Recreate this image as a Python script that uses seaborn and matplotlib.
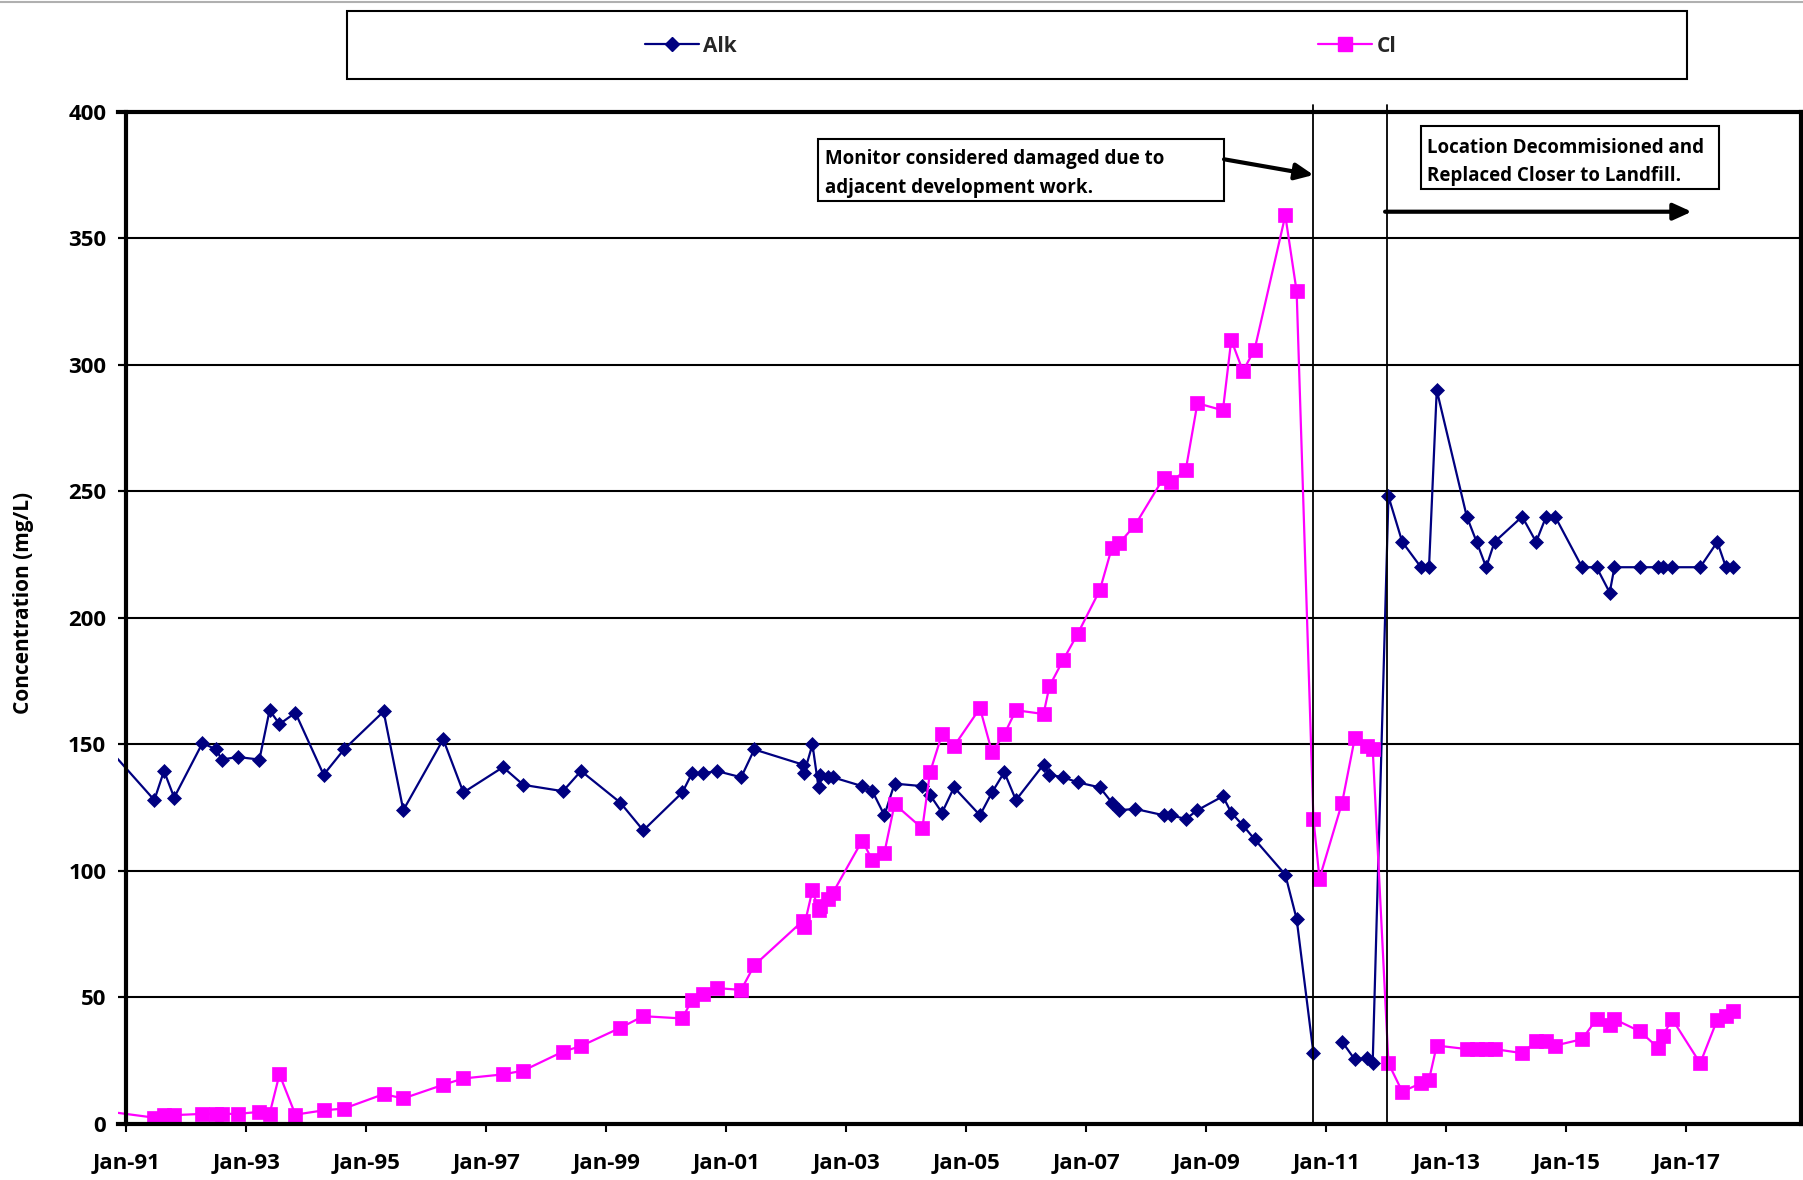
import matplotlib
matplotlib.use("Agg")
import matplotlib.pyplot as plt
import matplotlib.dates as mdates
from matplotlib.lines import Line2D
from matplotlib.patches import Rectangle
import numpy as np
import pandas as pd
import seaborn as sns

# Sampling dates shared by both parameters
sample_dates = [
    "1990-06-01", "1991-06-20", "1991-08-18", "1991-10-19", "1992-04-08",
    "1992-07-01", "1992-08-03", "1992-11-10", "1993-03-21", "1993-05-22",
    "1993-07-21", "1993-10-26", "1994-04-16", "1994-08-18", "1995-04-16",
    "1995-08-14", "1996-04-13", "1996-08-14", "1997-04-12", "1997-08-14",
    "1998-04-12", "1998-07-31", "1999-03-27", "1999-08-14", "2000-04-08",
    "2000-06-05", "2000-08-10", "2000-11-02", "2001-04-01", "2001-06-20",
    "2002-04-12", "2002-04-19", "2002-06-09", "2002-07-16", "2002-07-27",
    "2002-09-14", "2002-10-11", "2003-04-08", "2003-06-09", "2003-08-21",
    "2003-10-22", "2004-04-08", "2004-05-25", "2004-08-06", "2004-10-18",
    "2005-03-25", "2005-06-06", "2005-08-20", "2005-10-30", "2006-04-16",
    "2006-05-22", "2006-08-14", "2006-11-10", "2007-03-25", "2007-06-06",
    "2007-07-21", "2007-10-26", "2008-04-16", "2008-05-31", "2008-08-29",
    "2008-11-08", "2009-04-12", "2009-06-02", "2009-08-12", "2009-10-22",
    "2010-04-27", "2010-07-05", "2010-10-15", "2010-11-21", "2011-04-08",
    "2011-06-24", "2011-09-05", "2011-10-11", "2012-01-15", "2012-04-08",
    "2012-07-31", "2012-09-18", "2012-11-04", "2013-05-06", "2013-07-05",
    "2013-09-01", "2013-10-22", "2014-04-08", "2014-07-02", "2014-09-01",
    "2014-10-26", "2015-04-08", "2015-07-05", "2015-09-23", "2015-10-22",
    "2016-03-25", "2016-07-16", "2016-08-10", "2016-10-08", "2017-03-27",
    "2017-07-09", "2017-08-31", "2017-10-11",
]

# Alkalinity (mg/L); NaN = not analysed
alk = [
    156, 128, 139.5, 129, 150.5, 148, 144, 145, 144, 163.5,
    158, 162.5, 138, 148, 163, 124, 152, 131, 141, 134,
    131.5, 139.5, 127, 116, 131, 138.5, 138.5, 139.5, 137, 148,
    142, 138.5, 150, 133, 138, 137, 137, 133.5, 131.5, 122,
    134.5, 133.5, 130, 123, 133, 122, 131, 139, 128, 142,
    138, 137, 135, 133, 127, 124, 124.5, 122, 122, 120.5,
    124, 129.5, 123, 118, 112.5, 98.5, 81, 28, np.nan, 32.5,
    25.5, 26, 24, 248, 230, 220, 220, 290, 240, 230,
    220, 230, 240, 230, 240, 240, 220, 220, 210, 220,
    220, 220, 220, 220, 220, 230, 220, 220,
]

# Chloride (mg/L)
cl = [
    5.8, 2.5, 3.5, 3.5, 4, 4, 4, 4, 4.8, 4,
    19.6, 3.7, 5.4, 6.1, 11.8, 10.1, 15.5, 18, 19.6, 21.1,
    28.6, 30.8, 38, 42.6, 41.7, 49, 51.3, 53.7, 53, 62.7,
    80.3, 78, 92.4, 84.7, 86, 88.8, 91.3, 112, 104.2, 107.2,
    126.4, 116.8, 139, 154, 149.3, 164.3, 147, 154, 163.5, 162,
    173, 183.4, 193.7, 211, 227.7, 229.5, 236.7, 255.3, 253.5, 258.5,
    284.8, 282, 309.8, 297.5, 306, 359, 329, 120.7, 97, 127,
    152.5, 149.3, 148.3, 24, 12.8, 16.1, 17.5, 31, 29.6, 29.6,
    29.6, 29.6, 28, 32.6, 32.6, 31, 33.5, 41.4, 39.2, 41.4,
    36.6, 30, 34.8, 41.4, 24, 41.2, 42.5, 44.5,
]

series_names = ["Alk", "Cl"]
tick_years = list(range(1991, 2018, 2))
y_ticks = list(range(0, 401, 50))

# Event markers
damage_date = "2010-10-12"
replaced_date = "2012-01-04"
damage_note = ["Monitor considered damaged due to", "adjacent development work."]
replaced_note = ["Location Decommisioned and", "Replaced Closer to Landfill."]

NAVY = "#000080"
MAGENTA = "#FF00FF"
ALK_MS = 7.0
CL_MS = 9.8

sns.set_theme(style="white")
plt.rcParams["font.family"] = ["Open Sans", "DejaVu Sans"]
plt.rcParams["font.weight"] = "bold"

dates = pd.to_datetime(sample_dates)
alk_df = pd.DataFrame({"date": dates, "value": alk})
alk_df["run"] = alk_df["value"].isna().cumsum()
alk_df = alk_df.dropna()
cl_df = pd.DataFrame({"date": dates, "value": cl, "run": 0})

fig = plt.figure(figsize=(18.03, 11.80), dpi=100)
ax = fig.add_axes([0.06545, 0.04746, 0.93328, 0.85788])

sns.lineplot(data=alk_df, x="date", y="value", units="run", estimator=None,
             color=NAVY, marker="D", markersize=ALK_MS, markeredgecolor=NAVY,
             markeredgewidth=0.5, linewidth=1.6, legend=False, ax=ax)
sns.lineplot(data=cl_df, x="date", y="value", units="run", estimator=None,
             color=MAGENTA, marker="s", markersize=CL_MS, markeredgecolor=MAGENTA,
             markeredgewidth=0.5, linewidth=1.6, legend=False, ax=ax)

# Axes limits, ticks, grid
ax.set_xlim(pd.Timestamp("1990-11-11"), pd.Timestamp("2018-11-29"))
ax.set_ylim(0, 400)
ax.set_yticks(y_ticks)
ax.set_xticks(pd.to_datetime([f"{y}-01-01" for y in tick_years]))
ax.xaxis.set_major_formatter(mdates.DateFormatter("%b-%y"))
ax.yaxis.grid(True, color="black", linewidth=1.5)
ax.xaxis.grid(False)
ax.set_axisbelow(True)

for side in ["left", "right", "top", "bottom"]:
    ax.spines[side].set_visible(True)
    ax.spines[side].set_color("black")
    ax.spines[side].set_linewidth(3)
ax.spines["left"].set_position(("data", mdates.date2num(pd.Timestamp("1991-01-01"))))

ax.tick_params(axis="y", direction="out", length=5.5, width=1.5, pad=9,
               labelsize=16, left=True, colors="black")
ax.tick_params(axis="x", direction="out", length=6, width=1.5, pad=15,
               labelsize=16, bottom=True, colors="black")
for lbl in ax.get_xticklabels() + ax.get_yticklabels():
    lbl.set_fontweight("bold")

ax.set_xlabel("")
ax.set_ylabel("Concentration (mg/L)", fontsize=15, fontweight="bold", color="black")
ax.yaxis.label.set(rotation_mode="default", va="center", ha="center")
ax.yaxis.set_label_coords(-0.0560, 0.515)

# Event lines
for d in [damage_date, replaced_date]:
    ax.axvline(pd.Timestamp(d), ymin=0, ymax=1.007, color="black",
               linewidth=1.3, clip_on=False, zorder=3)

# Annotation boxes
def note_box(x0, y0, x1, y1, tx, lines_y, lines):
    ax.add_patch(Rectangle((x0, y0), x1 - x0, y1 - y0, transform=ax.transAxes,
                           facecolor="white", edgecolor="black", linewidth=1.5,
                           zorder=5, clip_on=False))
    for ty, txt in zip(lines_y, lines):
        ax.text(tx, ty, txt, transform=ax.transAxes, fontsize=13.5,
                fontweight="bold", va="baseline", ha="left", color="black",
                zorder=6)

note_box(0.4157, 0.912, 0.6571, 0.973, 0.4202, [0.9483, 0.9194], damage_note)
note_box(0.7742, 0.9236, 0.9514, 0.9859, 0.7777, [0.9595, 0.9315], replaced_note)

arrow_style = dict(arrowstyle="-|>,head_length=0.55,head_width=0.25",
                   color="black", lw=3, shrinkA=0, shrinkB=0, mutation_scale=20)
ax.annotate("", xy=(0.7105, 0.9375), xytext=(0.6573, 0.9530),
            xycoords="axes fraction", textcoords="axes fraction",
            arrowprops=arrow_style, zorder=6)
ax.annotate("", xy=(0.9352, 0.9012), xytext=(0.7530, 0.9012),
            xycoords="axes fraction", textcoords="axes fraction",
            arrowprops=arrow_style, zorder=6)

# Legend in its own framed strip above the plot
fig.patches.append(Rectangle((0.1925, 0.9331), 0.9357 - 0.1925, 0.9909 - 0.9331,
                             transform=fig.transFigure, facecolor="white",
                             edgecolor="black", linewidth=1.5))
handles = [
    Line2D([], [], color=NAVY, marker="D", markersize=ALK_MS,
           markeredgecolor=NAVY, linewidth=1.6),
    Line2D([], [], color=MAGENTA, marker="s", markersize=CL_MS,
           markeredgecolor=MAGENTA, linewidth=1.6),
]
fig.legend(handles, series_names, ncol=2, loc="center",
           bbox_to_anchor=(0.5660, 0.961), frameon=False,
           prop={"size": 15, "weight": "bold"}, handlelength=2.6,
           handletextpad=0.2, columnspacing=27.9)

# Thin grey rule along the top edge
fig.add_artist(Line2D([0, 1], [0.9985, 0.9985], transform=fig.transFigure,
                      color="#b0b0b0", linewidth=1.5))

fig.savefig("out.png", dpi=100, facecolor="white")
